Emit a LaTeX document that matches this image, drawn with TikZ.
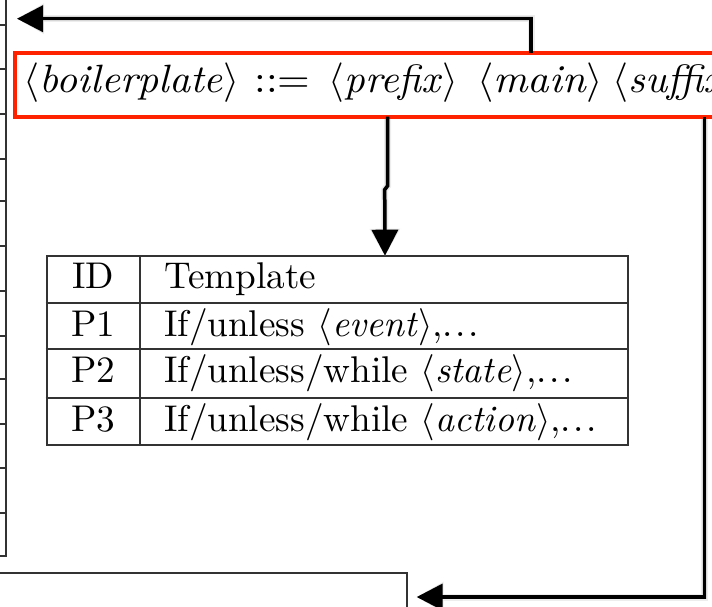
\RequirePackage{fix-cm}
\documentclass[tikz,border=0pt]{standalone}
\usetikzlibrary{arrows.meta}
\definecolor{boxred}{HTML}{FF2200}
\definecolor{rulegray}{HTML}{333333}
% text is set at 10pt and enlarged, keeping the 10pt design weight
\newcommand{\bigtext}[3]{\scalebox{#1}[#2]{#3}}
\newcommand{\nterm}[1]{$\langle$\textit{#1}$\rangle$}
\newcommand{\spaceddots}{.\kern.07em.\kern.07em.}
\tikzset{
  redframe/.style={draw=boxred, line width=4.3pt, inner sep=0pt, outer sep=0pt,
    minimum width=800pt, minimum height=63.7pt, anchor=north west},
  grammar/.style={inner sep=0pt, anchor=base west, font=\fontsize{10}{12}\selectfont},
  cell/.style={inner sep=0pt, anchor=base west, font=\fontsize{10}{12}\selectfont},
  idcell/.style={cell, anchor=base},
  rulebox/.style={draw=rulegray, line width=2.3pt, inner sep=0pt, outer sep=0pt},
  flow/.style={draw=black, line width=3.5pt, -{Triangle[length=26pt,width=26pt]}},
  shadowsoft/.style={draw=black!7, line width=7pt, shift={(2,3)},
    -{Triangle[length=27pt,width=29pt]}},
  shadowcore/.style={draw=black!16, line width=4.5pt, shift={(1.5,2.5)},
    -{Triangle[length=26pt,width=27pt]}},
}
\begin{document}
\begin{tikzpicture}[x=1pt,y=-1pt]
\useasboundingbox (0,0) rectangle (712,606);
\clip (0,0) rectangle (712,606);

% grammar rule in its red frame
\node[redframe] (bp) at (14.7,53) {};

% template table
\node[rulebox, minimum width=581pt, minimum height=189.6pt, anchor=north west]
  (tbl) at (47,255.7) {};

% neighbouring boxes
\node[rulebox, minimum width=500pt, minimum height=100pt, anchor=north east]
  (lowbox) at (407.3,572.7) {};
\node[rulebox, minimum width=100pt, minimum height=600pt, anchor=south east]
  (leftbox) at (5.7,555.7) {};

\coordinate (topend) at (17,18.7);
\coordinate (lowtip) at (416.7,597);

% soft shadows under the connectors
\foreach \s in {shadowsoft,shadowcore}{
  \draw[\s] ([xshift=516.3pt]bp.north west) |- (topend);
  \draw[\s] ([xshift=373pt]bp.south west) -- ++(0,69) -- ++(-3,4)
    -- ([xshift=338pt]tbl.north west);
  \draw[\s] ([xshift=690pt]bp.south west) |- (lowtip);
}

% redraw frames over the shadows
\node[redframe] at (14.7,53) {};

% row lines of the table on the left
\foreach \y in {25,69,114,159,201,246,291,336,379,424,468,513}
  \draw[rulebox] (0,\y) -- (5.7,\y);

% grid of the template table
\draw[rulebox] (140,255.7) -- (140,445.3);
\foreach \y in {303.3,349.3,398}
  \draw[rulebox] (45.5,\y) -- (628,\y);

% grammar text
\node[grammar] (g1) at (23.5,92.5)  {\bigtext{4.13}{3.95}{\nterm{boilerplate}}};
\node[grammar] (g2) at (254.2,92.5) {\bigtext{4.2}{3.95}{::=}};
\node[grammar] (g3) at (328.6,92.5) {\bigtext{4.05}{3.95}{\nterm{prefix}}};
\node[grammar] (g4) at (477.1,92.5) {\bigtext{4.2}{3.95}{\nterm{main}}};
\node[grammar] (g5) at (612.5,92.5) {\bigtext{4.1}{3.95}{\nterm{suffix}}};

% table text
\node[idcell] (h1) at (93,288.5)  {\bigtext{3.72}{3.72}{ID}};
\node[cell]   (h2) at (164,288.5) {\bigtext{3.72}{3.72}{Template}};
\node[idcell] (r1) at (93,336)    {\bigtext{3.72}{3.72}{P1}};
\node[cell]   (t1) at (164,336)   {\bigtext{3.72}{3.72}{If/unless \nterm{event},\spaceddots}};
\node[idcell] (r2) at (93,382.5)  {\bigtext{3.72}{3.72}{P2}};
\node[cell]   (t2) at (164,382.5) {\bigtext{3.72}{3.72}{If/unless/while \nterm{state},\spaceddots}};
\node[idcell] (r3) at (93,431)    {\bigtext{3.72}{3.72}{P3}};
\node[cell]   (t3) at (164,431)   {\bigtext{3.72}{3.72}{If/unless/while \nterm{action},\spaceddots}};

% connectors
\draw[flow] ([xshift=516.3pt]bp.north west) |- (topend);
\draw[flow] ([xshift=373pt]bp.south west) -- ++(0,69) -- ++(-3,4)
  -- ([xshift=338pt]tbl.north west);
\draw[flow] ([xshift=690pt]bp.south west) |- (lowtip);
\end{tikzpicture}
\end{document}
